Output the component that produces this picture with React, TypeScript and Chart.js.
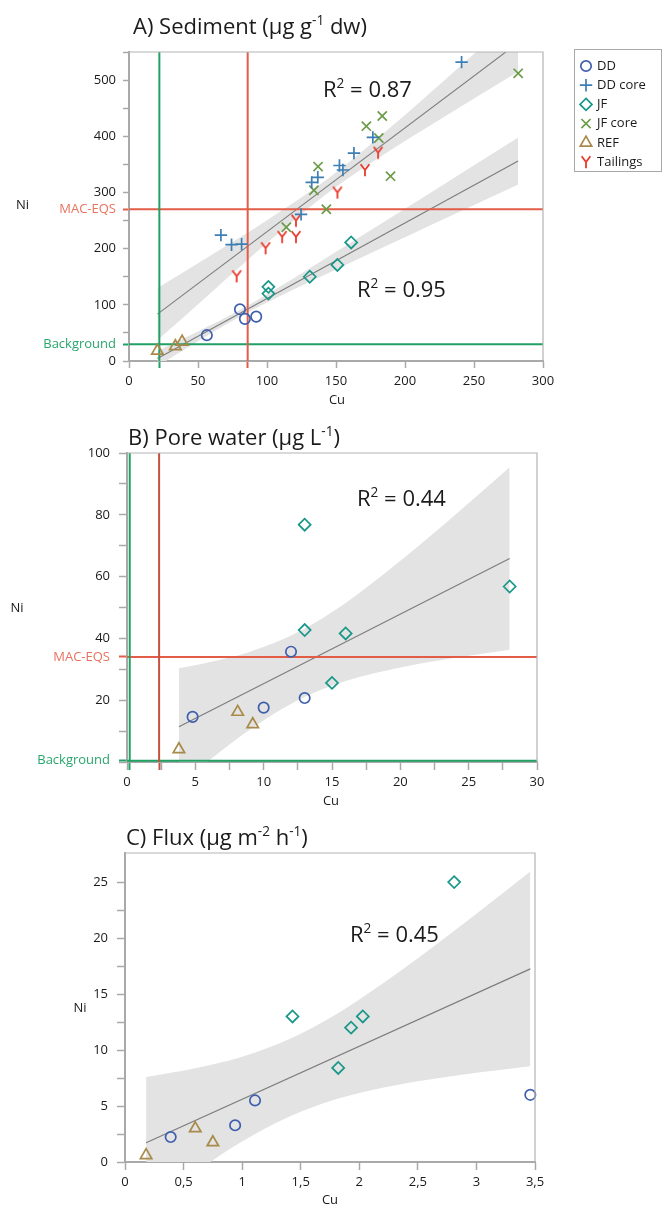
import React, { useEffect, useRef } from 'react';
import { Chart, registerables } from 'chart.js';

Chart.register(...registerables);

const FONT = '"Open Sans", "Noto Sans", "DejaVu Sans", sans-serif';
const PAGE_W = 668;
const TXT = '#1b1b1b';
const AXIS = '#a9a9a9';
const FRAME = '#b4b4b4';
const BAND = '#e3e3e3';
const REG = '#7c7c7c';
const RED = '#e25c47';
const RED_DARK = '#c4523f';
const RED_TXT = '#e8735f';
const GREEN = '#22a165';
const GREEN_TXT = '#2aa56c';

const COL_DD = '#3f5fad';
const COL_DDCORE = '#3d7fb5';
const COL_JF = '#189789';
const COL_JFCORE = '#6c9b48';
const COL_REF = '#a88a4b';
const COL_TAIL = '#e83a2c';

// ===== A) Sediment =====
const sedDDCu = [56.4, 80.4, 84, 92.2];
const sedDDNi = [46, 92, 75, 79];
const sedDDcoreCu = [66.6, 74.3, 81.6, 124.7, 132.4, 136.8, 152.5, 155, 163, 176.7, 241];
const sedDDcoreNi = [224, 207, 208, 261, 318, 327, 348, 340, 370, 398, 532];
const sedJFCu = [101, 101, 131, 151, 161];
const sedJFNi = [132, 120, 150, 171, 211];
const sedJFcoreCu = [114, 134, 137, 143, 172, 181, 183.5, 189.5, 282];
const sedJFcoreNi = [238, 304, 346, 270, 418, 397, 436, 329, 512];
const sedREFCu = [20.6, 33.6, 38.5];
const sedREFNi = [18, 26, 34];
const sedTailCu = [78, 99, 111, 121, 121, 151, 171, 180.5];
const sedTailNi = [151, 201, 221, 221, 250, 300, 340, 371];

const sedCuRange = [0, 300];
const sedNiRange = [0, 550];
const sedXTicks = [0, 50, 100, 150, 200, 250, 300];
const sedYTicks = [0, 100, 200, 300, 400, 500];
const sedYMinor = [50, 150, 250, 350, 450, 550];
const sedCuBackground = 22;
const sedCuMac = 86;
const sedNiBackground = 30;
const sedNiMac = 270;

const sedFitUpX = [20.6, 282];
const sedFitUpY = [83.5, 566.5];
const sedFitLoX = [20.6, 282];
const sedFitLoY = [4.4, 356];
const sedBandUpX = [20.6, 60, 100, 145, 190, 230, 282];
const sedBandUpHi = [130, 189, 250.5, 326, 417, 503, 617];
const sedBandUpLo = [37, 123, 210, 301, 376, 437, 515];
const sedBandLoX = [20.6, 50, 80, 120, 160, 200, 240, 282];
const sedBandLoHi = [18, 52.5, 90.3, 148.3, 209.4, 271.1, 333, 398];
const sedBandLoLo = [-9.2, 35.3, 78.3, 128, 174.4, 220.3, 266, 314];
const sedR2 = ['0.87', '0.95'];

// ===== B) Pore water =====
const pwDDCu = [4.8, 10, 12, 13];
const pwDDNi = [14.6, 17.6, 35.7, 20.7];
const pwJFCu = [13, 13, 16, 15, 28];
const pwJFNi = [76.8, 42.7, 41.6, 25.6, 56.8];
const pwREFCu = [3.8, 8.1, 9.2];
const pwREFNi = [4.1, 16.2, 12.2];

const pwCuRange = [0, 30];
const pwNiRange = [0, 100];
const pwXTicks = [0, 5, 10, 15, 20, 25, 30];
const pwXMinor = [2.5, 7.5, 12.5, 17.5, 22.5, 27.5];
const pwYTicks = [20, 40, 60, 80, 100];
const pwYMinor = [0, 10, 30, 50, 70, 90];
const pwCuBackground = 0.2;
const pwCuMac = 2.35;
const pwNiBackground = 0.4;
const pwNiMac = 34;

const pwFitX = [3.8, 28];
const pwFitY = [11.4, 65.85];
const pwBandX = [3.8, 6, 9, 12.5, 16, 20, 24, 28];
const pwBandHi = [30.3, 32.25, 35.7, 42, 51.45, 65.1, 79.95, 95.35];
const pwBandLo = [-7.5, 0.45, 10.5, 20, 26.25, 30.6, 33.75, 36.35];
const pwR2 = '0.44';

// ===== C) Flux =====
const fxDDCu = [0.39, 0.94, 1.11, 3.46];
const fxDDNi = [2.23, 3.28, 5.5, 6.0];
const fxJFCu = [1.43, 1.82, 1.93, 2.03, 2.81];
const fxJFNi = [13.0, 8.4, 12.0, 13.0, 25.0];
const fxREFCu = [0.18, 0.6, 0.75];
const fxREFNi = [0.6, 3.0, 1.75];

const fxCuRange = [0, 3.5];
const fxNiRange = [0, 27.6];
const fxXTicks = [0, 0.5, 1, 1.5, 2, 2.5, 3, 3.5];
const fxYTicks = [0, 5, 10, 15, 20, 25];
const fxYMinor = [2.5, 7.5, 12.5, 17.5, 22.5];

const fxFitX = [0.18, 3.46];
const fxFitY = [1.73, 17.25];
const fxBandX = [0.18, 0.6, 1.0, 1.4, 1.8, 2.2, 2.6, 3.0, 3.46];
const fxBandHi = [7.59, 8.37, 9.4, 10.97, 13.18, 15.94, 18.98, 22.17, 25.94];
const fxBandLo = [-4.13, -0.93, 1.82, 4.04, 5.6, 6.64, 7.38, 7.97, 8.55];
const fxR2 = '0.45';

// ===== helpers =====
type Pt = { x: number; y: number };
const pts = (xs: number[], ys: number[]): Pt[] => xs.map((x, i) => ({ x, y: ys[i] }));

let yImgCache: HTMLCanvasElement | null = null;
function yMarker(): HTMLCanvasElement {
  if (yImgCache) return yImgCache;
  const c = document.createElement('canvas');
  c.width = 14;
  c.height = 14;
  const g = c.getContext('2d')!;
  g.strokeStyle = COL_TAIL;
  g.lineWidth = 1.8;
  g.beginPath();
  g.moveTo(2.6, 1.3);
  g.lineTo(7, 7);
  g.lineTo(11.4, 1.3);
  g.moveTo(7, 7);
  g.lineTo(7, 13.2);
  g.stroke();
  yImgCache = c;
  return c;
}

const MK = {
  DD: { style: 'circle', r: 5.2, color: COL_DD },
  DDcore: { style: 'cross', r: 6.2, color: COL_DDCORE },
  JF: { style: 'rectRot', r: 6, color: COL_JF },
  JFcore: { style: 'crossRot', r: 6.5, color: COL_JFCORE },
  REF: { style: 'triangle', r: 6.6, color: COL_REF },
  Tail: { style: 'Y', r: 6, color: COL_TAIL },
};

function scatterDs(label: string, xs: number[], ys: number[], mk: any) {
  return {
    label,
    data: pts(xs, ys),
    pointStyle: mk.style === 'Y' ? yMarker() : mk.style,
    pointRadius: mk.r,
    pointHoverRadius: mk.r,
    pointBorderColor: mk.color,
    pointBackgroundColor: 'rgba(0,0,0,0)',
    pointBorderWidth: 1.7,
    showLine: false,
    clip: false,
    order: 1,
  };
}
function lineDs(xs: number[], ys: number[], color: string, width: number, order: number) {
  return {
    data: pts(xs, ys),
    showLine: true,
    borderColor: color,
    borderWidth: width,
    pointRadius: 0,
    pointHoverRadius: 0,
    fill: false,
    order,
  };
}
function bandDs(xs: number[], hi: number[], lo: number[]) {
  return [
    {
      data: pts(xs, hi),
      showLine: true,
      borderColor: 'rgba(0,0,0,0)',
      borderWidth: 0,
      pointRadius: 0,
      pointHoverRadius: 0,
      fill: '+1',
      backgroundColor: BAND,
      cubicInterpolationMode: 'monotone',
      tension: 0.4,
      order: 30,
    },
    {
      data: pts(xs, lo),
      showLine: true,
      borderColor: 'rgba(0,0,0,0)',
      borderWidth: 0,
      pointRadius: 0,
      pointHoverRadius: 0,
      fill: false,
      cubicInterpolationMode: 'monotone',
      tension: 0.4,
      order: 31,
    },
  ];
}

type Seg = { t: string; sup?: boolean };
function drawRich(ctx: CanvasRenderingContext2D, segs: Seg[], x: number, y: number, size: number, color: string) {
  let cx = x;
  ctx.fillStyle = color;
  ctx.textAlign = 'left';
  ctx.textBaseline = 'alphabetic';
  for (const s of segs) {
    const fs = s.sup ? size * 0.62 : size;
    ctx.font = `${fs}px ${FONT}`;
    ctx.fillText(s.t, cx, s.sup ? y - size * 0.4 : y);
    cx += ctx.measureText(s.t).width;
  }
}
function drawCenter(ctx: CanvasRenderingContext2D, t: string, x: number, y: number, size: number, color = TXT) {
  ctx.font = `${size}px ${FONT}`;
  ctx.fillStyle = color;
  ctx.textAlign = 'center';
  ctx.textBaseline = 'middle';
  ctx.fillText(t, x, y);
}
function drawMarker(ctx: CanvasRenderingContext2D, mk: any, x: number, y: number) {
  if (mk.style === 'Y') {
    const img = yMarker();
    ctx.drawImage(img, x - img.width / 2, y - img.height / 2);
    return;
  }
  const r = mk.r;
  ctx.save();
  ctx.strokeStyle = mk.color;
  ctx.lineWidth = 1.7;
  ctx.beginPath();
  if (mk.style === 'circle') ctx.arc(x, y, r, 0, Math.PI * 2);
  else if (mk.style === 'cross') {
    ctx.moveTo(x - r, y); ctx.lineTo(x + r, y); ctx.moveTo(x, y - r); ctx.lineTo(x, y + r);
  } else if (mk.style === 'rectRot') {
    ctx.moveTo(x, y - r); ctx.lineTo(x + r, y); ctx.lineTo(x, y + r); ctx.lineTo(x - r, y); ctx.closePath();
  } else if (mk.style === 'crossRot') {
    const d = r * 0.7071;
    ctx.moveTo(x - d, y - d); ctx.lineTo(x + d, y + d); ctx.moveTo(x + d, y - d); ctx.lineTo(x - d, y + d);
  } else if (mk.style === 'triangle') {
    ctx.moveTo(x, y - r); ctx.lineTo(x + r * 0.866, y + r / 2); ctx.lineTo(x - r * 0.866, y + r / 2); ctx.closePath();
  }
  ctx.stroke();
  ctx.restore();
}

type Special = { v: number; kind: 'mac' | 'bg' | 'macDark' };
function makeScale(opts: {
  min: number; max: number; values: number[]; label: (v: number) => string;
  specials: Special[]; tickLength: number; padding: number; fit: (s: any) => void;
}) {
  const spec = (v: number) => opts.specials.find((s) => Math.abs(s.v - v) < 1e-9);
  const all = [...opts.values, ...opts.specials.map((s) => s.v)].sort((a, b) => a - b);
  const lineCol = (k: string) => (k === 'bg' ? GREEN : k === 'macDark' ? RED_DARK : RED);
  return {
    type: 'linear',
    min: opts.min,
    max: opts.max,
    afterBuildTicks: (s: any) => {
      s.ticks = all.map((v) => ({ value: v }));
    },
    afterFit: opts.fit,
    grid: {
      drawOnChartArea: false,
      drawTicks: true,
      tickLength: opts.tickLength,
      tickColor: (c: any) => {
        const sp = c.tick ? spec(c.tick.value) : undefined;
        return sp ? lineCol(sp.kind) : AXIS;
      },
      tickWidth: (c: any) => (c.tick && spec(c.tick.value) ? 2 : 1.5),
    },
    border: { display: true, color: AXIS, width: 2 },
    ticks: {
      autoSkip: false,
      maxRotation: 0,
      minRotation: 0,
      padding: opts.padding,
      font: { family: FONT, size: 13 },
      color: (c: any) => {
        const sp = c.tick ? spec(c.tick.value) : undefined;
        if (!sp) return TXT;
        return sp.kind === 'bg' ? GREEN_TXT : RED_TXT;
      },
      callback: (v: any) => opts.label(Number(v)),
    },
  };
}

const fmtComma = (v: number) => String(v).replace('.', ',');
const near = (arr: number[], v: number) => arr.some((a) => Math.abs(a - v) < 1e-9);

function frame(chart: any) {
  const { ctx, chartArea: a } = chart;
  ctx.save();
  ctx.strokeStyle = FRAME;
  ctx.lineWidth = 1.2;
  ctx.beginPath();
  ctx.moveTo(a.left, a.top);
  ctx.lineTo(a.right, a.top);
  ctx.lineTo(a.right, a.bottom);
  ctx.stroke();
  ctx.restore();
}

const baseOptions = {
  responsive: false,
  animation: false,
  events: [],
  plugins: { legend: { display: false }, tooltip: { enabled: false }, title: { display: false } },
};

const TITLE_SIZE = 22;
const R2_SIZE = 22;

// ===== chart configs =====
function configA(): any {
  const H = 410;
  const datasets: any[] = [
    scatterDs('DD', sedDDCu, sedDDNi, MK.DD),
    scatterDs('DD core', sedDDcoreCu, sedDDcoreNi, MK.DDcore),
    scatterDs('JF', sedJFCu, sedJFNi, MK.JF),
    scatterDs('JF core', sedJFcoreCu, sedJFcoreNi, MK.JFcore),
    scatterDs('REF', sedREFCu, sedREFNi, MK.REF),
    scatterDs('Tailings', sedTailCu, sedTailNi, MK.Tail),
    lineDs(sedFitUpX, sedFitUpY, REG, 1.1, 10),
    lineDs(sedFitLoX, sedFitLoY, REG, 1.1, 10),
    lineDs([sedCuBackground, sedCuBackground], sedNiRange, GREEN, 2, 8),
    lineDs([sedCuMac, sedCuMac], sedNiRange, RED, 2, 8),
    lineDs(sedCuRange, [sedNiBackground, sedNiBackground], GREEN, 2, 8),
    lineDs(sedCuRange, [sedNiMac, sedNiMac], RED, 2, 8),
    ...bandDs(sedBandUpX, sedBandUpHi, sedBandUpLo),
    ...bandDs(sedBandLoX, sedBandLoHi, sedBandLoLo),
  ];
  const legend = [
    ['DD', MK.DD], ['DD core', MK.DDcore], ['JF', MK.JF], ['JF core', MK.JFcore], ['REF', MK.REF], ['Tailings', MK.Tail],
  ];
  return {
    type: 'scatter',
    data: { datasets },
    options: {
      ...baseOptions,
      layout: { padding: { left: 0, top: 52, right: PAGE_W - 543, bottom: H - 361 - 44 } },
      scales: {
        x: makeScale({
          min: sedCuRange[0], max: sedCuRange[1], values: sedXTicks,
          label: (v) => (near(sedXTicks, v) ? String(v) : ''),
          specials: [{ v: sedCuBackground, kind: 'bg' }, { v: sedCuMac, kind: 'mac' }],
          tickLength: 7, padding: 5, fit: (s: any) => { s.height = 44; },
        }),
        y: makeScale({
          min: sedNiRange[0], max: sedNiRange[1], values: [...sedYTicks, ...sedYMinor],
          label: (v) => (Math.abs(v - sedNiMac) < 1e-9 ? 'MAC-EQS' : Math.abs(v - sedNiBackground) < 1e-9 ? 'Background' : near(sedYTicks, v) ? String(v) : ''),
          specials: [{ v: sedNiBackground, kind: 'bg' }, { v: sedNiMac, kind: 'mac' }],
          tickLength: 6, padding: 7, fit: (s: any) => { s.width = 129; },
        }),
      },
    },
    plugins: [
      {
        id: 'decorA',
        afterDraw(chart: any) {
          const ctx = chart.ctx;
          ctx.save();
          frame(chart);
          drawRich(ctx, [{ t: 'A) Sediment (µg g' }, { t: '-1', sup: true }, { t: ' dw)' }], 133, 34, TITLE_SIZE, TXT);
          drawRich(ctx, [{ t: 'R' }, { t: '2', sup: true }, { t: ' = ' + sedR2[0] }], 323, 97, R2_SIZE, TXT);
          drawRich(ctx, [{ t: 'R' }, { t: '2', sup: true }, { t: ' = ' + sedR2[1] }], 357, 297, R2_SIZE, TXT);
          drawCenter(ctx, 'Ni', 22.5, 205, 13);
          drawCenter(ctx, 'Cu', 337, 400, 13);
          ctx.strokeStyle = '#a8a8a8';
          ctx.lineWidth = 1;
          ctx.strokeRect(574.5, 49.5, 87, 122);
          legend.forEach(([lab, mk]: any, i: number) => {
            const y = 66 + i * 19.2;
            drawMarker(ctx, mk, 586, y);
            ctx.font = `13px ${FONT}`;
            ctx.fillStyle = TXT;
            ctx.textAlign = 'left';
            ctx.textBaseline = 'middle';
            ctx.fillText(lab, 597, y);
          });
          ctx.restore();
        },
      },
    ],
  };
}

function configB(): any {
  const H = 400;
  const datasets: any[] = [
    scatterDs('DD', pwDDCu, pwDDNi, MK.DD),
    scatterDs('JF', pwJFCu, pwJFNi, MK.JF),
    scatterDs('REF', pwREFCu, pwREFNi, MK.REF),
    lineDs(pwFitX, pwFitY, REG, 1.1, 10),
    lineDs([pwCuBackground, pwCuBackground], pwNiRange, GREEN, 2, 8),
    lineDs([pwCuMac, pwCuMac], pwNiRange, RED_DARK, 2, 8),
    lineDs(pwCuRange, [pwNiBackground, pwNiBackground], GREEN, 2, 8),
    lineDs(pwCuRange, [pwNiMac, pwNiMac], RED, 2, 8),
    ...bandDs(pwBandX, pwBandHi, pwBandLo),
  ];
  return {
    type: 'scatter',
    data: { datasets },
    options: {
      ...baseOptions,
      layout: { padding: { left: 0, top: 43, right: PAGE_W - 537, bottom: H - 352 - 44 } },
      scales: {
        x: makeScale({
          min: pwCuRange[0], max: pwCuRange[1], values: [...pwXTicks, ...pwXMinor],
          label: (v) => (near(pwXTicks, v) ? String(v) : ''),
          specials: [{ v: pwCuBackground, kind: 'bg' }, { v: pwCuMac, kind: 'macDark' }],
          tickLength: 8, padding: 4, fit: (s: any) => { s.height = 44; },
        }),
        y: makeScale({
          min: pwNiRange[0], max: pwNiRange[1], values: [...pwYTicks, ...pwYMinor],
          label: (v) => (Math.abs(v - pwNiMac) < 1e-9 ? 'MAC-EQS' : Math.abs(v - pwNiBackground) < 1e-9 ? 'Background' : near(pwYTicks, v) ? String(v) : ''),
          specials: [{ v: pwNiBackground, kind: 'bg' }, { v: pwNiMac, kind: 'mac' }],
          tickLength: 8, padding: 9, fit: (s: any) => { s.width = 127; },
        }),
      },
    },
    plugins: [
      {
        id: 'decorB',
        afterDraw(chart: any) {
          const ctx = chart.ctx;
          ctx.save();
          frame(chart);
          drawRich(ctx, [{ t: 'B) Pore water (µg L' }, { t: '-1', sup: true }, { t: ')' }], 128, 35, TITLE_SIZE, TXT);
          drawRich(ctx, [{ t: 'R' }, { t: '2', sup: true }, { t: ' = ' + pwR2 }], 357, 96, R2_SIZE, TXT);
          drawCenter(ctx, 'Ni', 17, 198, 13);
          drawCenter(ctx, 'Cu', 331, 391, 13);
          ctx.restore();
        },
      },
    ],
  };
}

function configC(): any {
  const H = 396;
  const datasets: any[] = [
    scatterDs('DD', fxDDCu, fxDDNi, MK.DD),
    scatterDs('JF', fxJFCu, fxJFNi, MK.JF),
    scatterDs('REF', fxREFCu, fxREFNi, MK.REF),
    lineDs(fxFitX, fxFitY, REG, 1.1, 10),
    ...bandDs(fxBandX, fxBandHi, fxBandLo),
  ];
  return {
    type: 'scatter',
    data: { datasets },
    options: {
      ...baseOptions,
      layout: { padding: { left: 0, top: 43, right: PAGE_W - 535, bottom: H - 352 - 40 } },
      scales: {
        x: makeScale({
          min: fxCuRange[0], max: fxCuRange[1], values: fxXTicks,
          label: (v) => (near(fxXTicks, v) ? fmtComma(v) : ''),
          specials: [],
          tickLength: 8, padding: 4, fit: (s: any) => { s.height = 40; },
        }),
        y: makeScale({
          min: fxNiRange[0], max: fxNiRange[1], values: [...fxYTicks, ...fxYMinor],
          label: (v) => (near(fxYTicks, v) ? String(v) : ''),
          specials: [],
          tickLength: 8, padding: 9, fit: (s: any) => { s.width = 125; },
        }),
      },
    },
    plugins: [
      {
        id: 'decorC',
        afterDraw(chart: any) {
          const ctx = chart.ctx;
          ctx.save();
          frame(chart);
          drawRich(ctx, [{ t: 'C) Flux (µg m' }, { t: '-2', sup: true }, { t: ' h' }, { t: '-1', sup: true }, { t: ')' }], 126, 35, TITLE_SIZE, TXT);
          drawRich(ctx, [{ t: 'R' }, { t: '2', sup: true }, { t: ' = ' + fxR2 }], 350, 132, R2_SIZE, TXT);
          drawCenter(ctx, 'Ni', 80, 198, 13);
          drawCenter(ctx, 'Cu', 330, 390, 13);
          ctx.restore();
        },
      },
    ],
  };
}

function ChartCanvas({ make, top, height }: { make: () => any; top: number; height: number }) {
  const ref = useRef<HTMLCanvasElement>(null);
  useEffect(() => {
    const chart = new Chart(ref.current as HTMLCanvasElement, make());
    return () => chart.destroy();
  }, [make]);
  return (
    <canvas
      ref={ref}
      width={PAGE_W}
      height={height}
      style={{ position: 'absolute', left: 0, top, width: PAGE_W, height, display: 'block' }}
    />
  );
}

export default function App() {
  return (
    <div style={{ position: 'absolute', left: 0, top: 0, width: PAGE_W, height: 1206, background: '#ffffff', overflow: 'hidden' }}>
      <ChartCanvas make={configA} top={0} height={410} />
      <ChartCanvas make={configB} top={410} height={400} />
      <ChartCanvas make={configC} top={810} height={396} />
    </div>
  );
}
